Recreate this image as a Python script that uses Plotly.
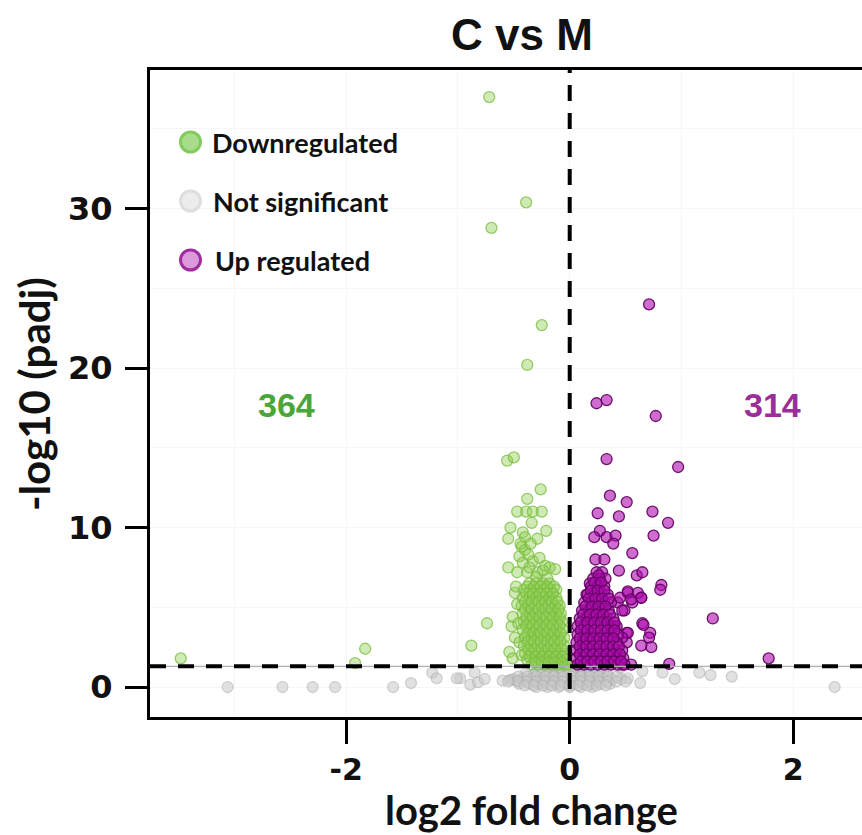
import plotly.graph_objects as go

# ---------------- data ----------------
# Downregulated (green): log2 fold change, -log10(padj)
down_x = [-0.72, -0.39, -0.70, -0.25, -0.38, -0.56, -0.50, -0.26, -3.48, -1.83, -1.92, -0.88, -0.74,
          -0.47, -0.38, -0.39, -0.33, -0.25, -0.34,
          -0.53, -0.42, -0.21, -0.55, -0.40, -0.29,
          -0.43, -0.45, -0.42, -0.33, -0.27, -0.22, -0.18, -0.13, -0.55, -0.47, -0.38, -0.29, -0.24, -0.36,
          -0.40, -0.37, -0.44, -0.35, -0.30, -0.20,
          -0.49, -0.51, -0.52, -0.49, -0.54, -0.51, -0.45, -0.43, -0.47, -0.46, -0.48,
          -0.36, -0.30, -0.24, -0.18,
          -0.41, -0.35, -0.29, -0.23, -0.17, -0.12,
          -0.42, -0.36, -0.30, -0.24, -0.18, -0.12,
          -0.43, -0.37, -0.31, -0.25, -0.19, -0.13, -0.09,
          -0.42, -0.36, -0.30, -0.24, -0.18, -0.12, -0.08,
          -0.41, -0.35, -0.29, -0.23, -0.17, -0.11, -0.07,
          -0.42, -0.36, -0.30, -0.24, -0.18, -0.12, -0.06,
          -0.40, -0.34, -0.28, -0.22, -0.16, -0.10, -0.05,
          -0.41, -0.35, -0.29, -0.23, -0.17, -0.11, -0.05,
          -0.40, -0.34, -0.28, -0.22, -0.16, -0.10, -0.04,
          -0.38, -0.32, -0.26, -0.20, -0.14, -0.08, -0.03,
          -0.34, -0.28, -0.22, -0.16, -0.10, -0.05, -0.02,
          -0.38, -0.32, -0.26, -0.20, -0.14,
          -0.39, -0.33, -0.27, -0.21, -0.15,
          -0.40, -0.34, -0.28, -0.22, -0.16, -0.11,
          -0.40, -0.34, -0.28, -0.22, -0.16, -0.10,
          -0.39, -0.33, -0.27, -0.21, -0.15, -0.09,
          -0.39, -0.33, -0.27, -0.21, -0.15, -0.09,
          -0.38, -0.32, -0.26, -0.20, -0.14, -0.08,
          -0.38, -0.32, -0.26, -0.20, -0.14, -0.08,
          -0.37, -0.31, -0.25, -0.19, -0.13, -0.07,
          -0.36, -0.30, -0.24, -0.18, -0.12, -0.06,
          -0.31, -0.25, -0.19, -0.13, -0.07]
down_y = [37.0, 30.4, 28.8, 22.7, 20.2, 14.2, 14.4, 12.4, 1.8, 2.4, 1.5, 2.6, 4.0,
          11.0, 11.8, 11.0, 11.0, 11.0, 10.3,
          10.0, 9.7, 9.8, 9.3, 9.4, 9.3,
          8.8, 8.2, 7.8, 7.9, 8.1, 7.6, 7.5, 7.4, 7.5, 7.2, 7.2, 7.2, 7.3, 7.5,
          8.6, 8.3, 9.0, 9.0, 6.9, 6.8,
          5.9, 4.4, 3.8, 3.1, 2.2, 1.8, 2.8, 2.0, 5.2, 4.0, 6.3,
          6.5, 6.5, 6.5, 6.5,
          6.1, 6.1, 6.1, 6.1, 6.1, 6.1,
          5.6, 5.6, 5.6, 5.6, 5.6, 5.6,
          5.1, 5.1, 5.1, 5.1, 5.1, 5.1, 5.1,
          4.6, 4.6, 4.6, 4.6, 4.6, 4.6, 4.6,
          4.1, 4.1, 4.1, 4.1, 4.1, 4.1, 4.1,
          3.6, 3.6, 3.6, 3.6, 3.6, 3.6, 3.6,
          3.1, 3.1, 3.1, 3.1, 3.1, 3.1, 3.1,
          2.6, 2.6, 2.6, 2.6, 2.6, 2.6, 2.6,
          2.1, 2.1, 2.1, 2.1, 2.1, 2.1, 2.1,
          1.7, 1.7, 1.7, 1.7, 1.7, 1.7, 1.7,
          1.4, 1.4, 1.4, 1.4, 1.4, 1.4, 1.4,
          6.3, 6.3, 6.3, 6.3, 6.3,
          5.85, 5.85, 5.85, 5.85, 5.85,
          5.35, 5.35, 5.35, 5.35, 5.35, 5.35,
          4.85, 4.85, 4.85, 4.85, 4.85, 4.85,
          4.35, 4.35, 4.35, 4.35, 4.35, 4.35,
          3.85, 3.85, 3.85, 3.85, 3.85, 3.85,
          3.35, 3.35, 3.35, 3.35, 3.35, 3.35,
          2.85, 2.85, 2.85, 2.85, 2.85, 2.85,
          2.35, 2.35, 2.35, 2.35, 2.35, 2.35,
          1.9, 1.9, 1.9, 1.9, 1.9, 1.9,
          1.55, 1.55, 1.55, 1.55, 1.55]

# Up regulated (purple)
up_x = [0.71, 0.24, 0.33, 0.77, 0.33, 0.97, 0.36, 0.51, 0.25, 0.44, 0.74, 0.88,
        0.27, 0.22, 0.33, 0.41, 0.39, 0.75, 0.56, 0.23, 0.31, 0.44, 0.60, 0.65,
        0.82, 0.81, 0.52, 0.64, 0.15, 0.43, 0.56, 0.49, 0.65, 0.72, 0.71, 0.64, 0.73,
        1.28, 0.89, 0.38, 0.51, 0.47, 0.55, 1.78, 0.66, 0.51,
        0.18, 0.27, 0.45, 0.52, 0.55, 0.61, 0.64, 0.47, 0.40, 0.52, 0.47, 0.45,
        0.24, 0.29,
        0.21, 0.27, 0.32,
        0.19, 0.25, 0.31,
        0.16, 0.22, 0.28, 0.34,
        0.13, 0.19, 0.25, 0.31, 0.37,
        0.11, 0.17, 0.23, 0.29, 0.35,
        0.09, 0.15, 0.21, 0.27, 0.33, 0.39,
        0.07, 0.13, 0.19, 0.25, 0.31, 0.37, 0.42,
        0.07, 0.13, 0.19, 0.25, 0.31, 0.37, 0.43,
        0.06, 0.12, 0.18, 0.24, 0.30, 0.36, 0.42,
        0.06, 0.12, 0.18, 0.24, 0.30, 0.36, 0.42, 0.47,
        0.06, 0.12, 0.18, 0.24, 0.30, 0.36, 0.42, 0.48,
        0.07, 0.13, 0.19, 0.25, 0.31, 0.37, 0.43, 0.49,
        0.26,
        0.22, 0.28,
        0.19, 0.25, 0.31,
        0.17, 0.23, 0.29, 0.35,
        0.14, 0.20, 0.26, 0.32,
        0.12, 0.18, 0.24, 0.30, 0.36,
        0.10, 0.16, 0.22, 0.28, 0.34, 0.40,
        0.10, 0.16, 0.22, 0.28, 0.34, 0.40,
        0.09, 0.15, 0.21, 0.27, 0.33, 0.39,
        0.09, 0.15, 0.21, 0.27, 0.33, 0.39, 0.44,
        0.09, 0.15, 0.21, 0.27, 0.33, 0.39, 0.45,
        0.10, 0.16, 0.22, 0.28, 0.34, 0.40, 0.46]
up_y = [24.0, 17.8, 18.0, 17.0, 14.3, 13.8, 12.0, 11.6, 10.9, 10.7, 11.0, 10.3,
        9.8, 9.4, 9.4, 9.5, 9.0, 9.5, 8.4, 8.0, 8.0, 7.3, 7.0, 7.2,
        6.4, 6.1, 5.9, 5.6, 5.8, 5.3, 5.3, 4.8, 4.0, 3.4, 3.1, 2.6, 2.5,
        4.3, 1.45, 3.7, 2.8, 1.4, 1.4, 1.8, 3.9, 3.4,
        6.5, 6.1, 5.6, 6.0, 5.5, 5.9, 5.6, 4.8, 3.8, 3.4, 3.1, 1.6,
        7.2, 7.2,
        6.8, 6.8, 6.8,
        6.3, 6.3, 6.3,
        5.8, 5.8, 5.8, 5.8,
        5.3, 5.3, 5.3, 5.3, 5.3,
        4.8, 4.8, 4.8, 4.8, 4.8,
        4.3, 4.3, 4.3, 4.3, 4.3, 4.3,
        3.8, 3.8, 3.8, 3.8, 3.8, 3.8, 3.8,
        3.3, 3.3, 3.3, 3.3, 3.3, 3.3, 3.3,
        2.8, 2.8, 2.8, 2.8, 2.8, 2.8, 2.8,
        2.3, 2.3, 2.3, 2.3, 2.3, 2.3, 2.3, 2.3,
        1.8, 1.8, 1.8, 1.8, 1.8, 1.8, 1.8, 1.8,
        1.4, 1.4, 1.4, 1.4, 1.4, 1.4, 1.4, 1.4,
        7.0,
        6.55, 6.55,
        6.05, 6.05, 6.05,
        5.55, 5.55, 5.55, 5.55,
        5.05, 5.05, 5.05, 5.05,
        4.55, 4.55, 4.55, 4.55, 4.55,
        4.05, 4.05, 4.05, 4.05, 4.05, 4.05,
        3.55, 3.55, 3.55, 3.55, 3.55, 3.55,
        3.05, 3.05, 3.05, 3.05, 3.05, 3.05,
        2.55, 2.55, 2.55, 2.55, 2.55, 2.55, 2.55,
        2.05, 2.05, 2.05, 2.05, 2.05, 2.05, 2.05,
        1.6, 1.6, 1.6, 1.6, 1.6, 1.6, 1.6]

# Not significant (grey)
ns_x = [-3.06, -2.57, -2.30, -2.10, -1.58, -1.42, -1.23, -1.19, -0.98, -0.89, -0.85, -0.82, -0.76, -1.01,
        -0.60, -0.53, -0.48,
        0.65, 0.63, 0.83, 0.94, 1.16, 1.26, 1.45, 2.37, 0.52, 0.45,
        -0.20, -0.14, -0.08, -0.02, 0.04, 0.10, 0.16, 0.22,
        -0.40, -0.32, -0.26, -0.20, -0.14, -0.08, -0.02, 0.04, 0.10, 0.16, 0.22, 0.28, 0.34,
        -0.50, -0.42, -0.34, -0.26, -0.18, -0.10, -0.02, 0.06, 0.14, 0.22, 0.30, 0.38, 0.46,
        -0.45, -0.36, -0.28, -0.20, -0.12, -0.04, 0.04, 0.12, 0.20, 0.28, 0.36,
        -0.30, -0.20, -0.10, 0.00, 0.10, 0.20,
        -0.30, -0.24, -0.18, -0.12, -0.06, 0.00, 0.06, 0.12, 0.18, 0.24, 0.30,
        -0.46, -0.38, -0.30, -0.22, -0.14, -0.06, 0.02, 0.10, 0.18, 0.26, 0.34, 0.42,
        -0.55, -0.46, -0.38, -0.30, -0.22, -0.14, -0.06, 0.02, 0.10, 0.18, 0.26, 0.34, 0.42, 0.50,
        -0.40, -0.32, -0.24, -0.16, -0.08, 0.00, 0.08, 0.16, 0.24, 0.32]
ns_y = [0.0, 0.0, 0.0, 0.0, 0.0, 0.25, 0.9, 0.55, 0.55, 0.15, 0.9, 0.3, 0.5, 0.55,
        0.4, 0.45, 0.4,
        1.0, 0.25, 0.9, 0.5, 0.9, 0.75, 0.65, 0.0, 0.55, 1.2,
        1.1, 1.1, 1.1, 1.1, 1.1, 1.1, 1.1, 1.1,
        0.8, 0.8, 0.8, 0.8, 0.8, 0.8, 0.8, 0.8, 0.8, 0.8, 0.8, 0.8, 0.8,
        0.5, 0.5, 0.5, 0.5, 0.5, 0.5, 0.5, 0.5, 0.5, 0.5, 0.5, 0.5, 0.5,
        0.2, 0.2, 0.2, 0.2, 0.2, 0.2, 0.2, 0.2, 0.2, 0.2, 0.2,
        0.0, 0.0, 0.0, 0.0, 0.0, 0.0,
        0.95, 0.95, 0.95, 0.95, 0.95, 0.95, 0.95, 0.95, 0.95, 0.95, 0.95,
        0.65, 0.65, 0.65, 0.65, 0.65, 0.65, 0.65, 0.65, 0.65, 0.65, 0.65, 0.65,
        0.35, 0.35, 0.35, 0.35, 0.35, 0.35, 0.35, 0.35, 0.35, 0.35, 0.35, 0.35, 0.35, 0.35,
        0.1, 0.1, 0.1, 0.1, 0.1, 0.1, 0.1, 0.1, 0.1, 0.1]

legend_labels = ["Downregulated", "Not significant", "Up regulated"]
n_down, n_up = "364", "314"
x_ticks = [-2, 0, 2]
x_ticktext = ["-2", "0", "2"]
y_ticks = [0, 10, 20, 30]
y_ticktext = ["0", "10", "20", "30"]
padj_threshold = 1.3   # -log10(0.05)
fc_threshold = 0.0

# ---------------- figure ----------------
W, H = 862, 835
L, R, T, B = 150, 0, 70, 118
PW, PH = W - L - R, H - T - B

def px(x):  # pixel -> paper x
    return (x - L) / PW

def py(y):  # pixel -> paper y
    return (H - B - y) / PH

fig = go.Figure()
fig.add_trace(go.Scatter(x=ns_x, y=ns_y, mode="markers", showlegend=False, hoverinfo="skip",
                         marker=dict(size=11, color="rgba(200,200,200,0.55)",
                                     line=dict(color="rgba(170,170,170,0.5)", width=1.2))))
fig.add_trace(go.Scatter(x=down_x, y=down_y, mode="markers", showlegend=False,
                         marker=dict(size=11, color="rgba(143,206,80,0.42)",
                                     line=dict(color="rgba(120,190,62,0.75)", width=1.3))))
fig.add_trace(go.Scatter(x=up_x, y=up_y, mode="markers", showlegend=False,
                         marker=dict(size=11, color="rgba(175,10,175,0.6)",
                                     line=dict(color="rgba(95,0,95,0.9)", width=1.3))))

# threshold lines
fig.add_shape(type="line", xref="paper", x0=0, x1=1, yref="y", y0=padj_threshold, y1=padj_threshold,
              line=dict(color="#b0b0b0", width=1.2), layer="above")
fig.add_shape(type="line", xref="paper", x0=0, x1=1, yref="y", y0=padj_threshold, y1=padj_threshold,
              line=dict(color="black", width=4, dash="16px,12px"), layer="above")
fig.add_shape(type="line", xref="x", x0=fc_threshold, x1=fc_threshold, yref="paper", y0=0, y1=1,
              line=dict(color="black", width=4, dash="16px,12px"), layer="above")

# legend (drawn manually)
leg_fill = ["#a9dc8c", "#ececec", "#dc9adc"]
leg_edge = ["#80cc5c", "#dedede", "#a02ca0"]
leg_y = [142, 201, 260]
leg_tx = [210, 211, 213]
for lab, fc, ec, yy, tx in zip(legend_labels, leg_fill, leg_edge, leg_y, leg_tx):
    fig.add_shape(type="circle", xref="paper", yref="paper", xsizemode="pixel", ysizemode="pixel",
                  xanchor=px(190.5), yanchor=py(yy), x0=-10, x1=10, y0=-10, y1=10,
                  fillcolor=fc, line=dict(color=ec, width=3), layer="above")
    fig.add_annotation(xref="paper", yref="paper", x=px(tx), y=py(yy), text=lab, showarrow=False,
                       xanchor="left", yanchor="middle",
                       font=dict(family="Lato", size=27, color="#111111", weight="bold"))

# counts
fig.add_annotation(xref="paper", yref="paper", x=px(286), y=py(405), text=n_down, showarrow=False,
                   xanchor="center", yanchor="middle",
                   font=dict(family="Liberation Sans", size=34, color="#4aa63a", weight="bold"))
fig.add_annotation(xref="paper", yref="paper", x=px(772), y=py(405), text=n_up, showarrow=False,
                   xanchor="center", yanchor="middle",
                   font=dict(family="Liberation Sans", size=34, color="#9a2e9a", weight="bold"))

# axis titles
fig.add_annotation(xref="paper", yref="paper", x=px(531), y=py(810), text="log2 fold change",
                   showarrow=False, xanchor="center", yanchor="middle",
                   font=dict(family="Lato", size=40, color="#111111", weight="bold"))
fig.add_annotation(xref="paper", yref="paper", x=px(34), y=py(394), text="-log10 (padj)",
                   showarrow=False, xanchor="center", yanchor="middle", textangle=-90,
                   font=dict(family="Lato", size=42, color="#111111", weight="bold"))

fig.update_layout(
    width=W, height=H,
    margin=dict(l=L, r=R, t=T, b=B, pad=0),
    paper_bgcolor="white", plot_bgcolor="white",
    showlegend=False,
    title=dict(text="<b>C vs M</b>", x=522 / W, xanchor="center", y=1 - 35 / H, yanchor="middle",
               xref="container", yref="container",
               font=dict(family="Liberation Sans", size=44, color="#111111")),
    xaxis=dict(range=[-3.755, 2.615], tickmode="array", tickvals=x_ticks, ticktext=x_ticktext,
               showline=True, linecolor="black", linewidth=3, mirror=True,
               ticks="outside", ticklen=24, tickwidth=3, tickcolor="black",
               showgrid=False, zeroline=False,
               minor=dict(dtick=1, showgrid=True, gridcolor="#f6f6f6", gridwidth=1, ticks=""),
               tickfont=dict(family="DejaVu Sans", size=30, color="#111111", weight="bold")),
    yaxis=dict(range=[-1.88, 38.7], tickmode="array", tickvals=y_ticks, ticktext=y_ticktext,
               showline=True, linecolor="black", linewidth=3, mirror=False,
               ticks="outside", ticklen=22, tickwidth=3, tickcolor="black",
               ticklabelstandoff=6,
               showgrid=False, zeroline=False,
               minor=dict(dtick=5, showgrid=True, gridcolor="#f6f6f6", gridwidth=1, ticks=""),
               tickfont=dict(family="DejaVu Sans", size=32, color="#111111", weight="bold")),
)

fig.write_html("out.html", config={"displayModeBar": False},
               post_script="document.body.style.margin='0px';")
